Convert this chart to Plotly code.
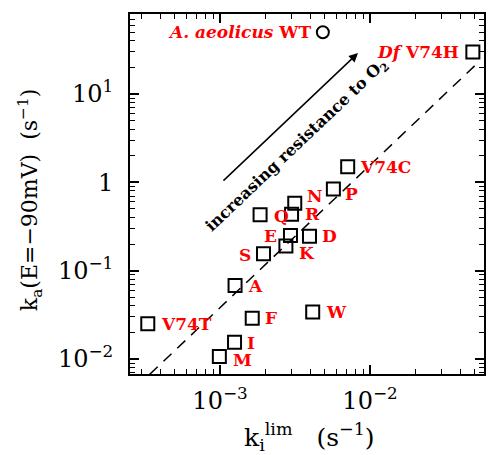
import plotly.graph_objects as go
import numpy as np

# ---- data ----
mutants = ["V74C", "P", "N", "Q", "R", "E", "D", "K", "S", "A", "F", "W", "V74T", "I", "M", "Df V74H"]
ki_lim = [7.1e-3, 5.7e-3, 3.15e-3, 1.85e-3, 3.0e-3, 2.95e-3, 3.95e-3, 2.75e-3, 1.95e-3, 1.26e-3, 1.64e-3, 4.15e-3, 3.3e-4, 1.25e-3, 9.9e-4, 4.85e-2]
ka = [1.5, 0.84, 0.58, 0.43, 0.435, 0.25, 0.245, 0.19, 0.155, 0.068, 0.029, 0.034, 0.025, 0.0155, 0.0107, 30.0]
wt_name = "A. aeolicus WT"
wt_ki = [4.85e-3]
wt_ka = [50.0]
fit_x = [3.4e-4, 5.3e-2]
fit_y = [6.7e-3, 23.0]

x_tickvals = [1e-3, 1e-2]
x_ticktext = ["10<sup>\u22123</sup>", "10<sup>\u22122</sup>"]
y_tickvals = [1e-2, 1e-1, 1, 10]
y_ticktext = ["10<sup>\u22122</sup>", "10<sup>\u22121</sup>", "1", "10<sup>1</sup>"]

# label offsets (pixels) : (dx, dy, anchor)
label_style = {
    "V74C": (10, 0, "left"), "P": (10, 5, "left"), "N": (10, -7, "left"),
    "Q": (12, 1, "left"), "R": (11, 0, "left"), "E": (-11, 0, "right"),
    "D": (11, 0, "left"), "K": (11, 7, "left"), "S": (-11, 1, "right"),
    "A": (11, 1, "left"), "F": (11, 0, "left"), "W": (11, 0, "left"),
    "V74T": (11, 0, "left"), "I": (10, 1, "left"), "M": (12, 4, "left"),
    "Df V74H": (-12, 0, "right"),
}

SERIF = "DejaVu Serif"
RED = "#ff0000"

fig = go.Figure()
fig.add_trace(go.Scatter(x=fit_x, y=fit_y, mode="lines",
                         line=dict(color="black", width=1.5, dash="11px,8px"),
                         showlegend=False, hoverinfo="skip"))
fig.add_trace(go.Scatter(x=ki_lim, y=ka, mode="markers",
                         marker=dict(symbol="square-open", size=13, color="black", line=dict(width=2)),
                         showlegend=False))
fig.add_trace(go.Scatter(x=wt_ki, y=wt_ka, mode="markers",
                         marker=dict(symbol="circle-open", size=12, color="black", line=dict(width=2)),
                         showlegend=False))

anns = []
for name, xv, yv in zip(mutants, ki_lim, ka):
    dx, dy, anc = label_style[name]
    txt = "<i>Df</i> V74H" if name == "Df V74H" else name
    anns.append(dict(x=np.log10(xv), y=np.log10(yv), text=txt, showarrow=False,
                     xanchor=anc, yanchor="middle", xshift=dx, yshift=-dy,
                     font=dict(family=SERIF, size=17, color=RED, weight="bold")))
anns.append(dict(x=np.log10(wt_ki[0]), y=np.log10(wt_ka[0]), text="<i>A. aeolicus</i> WT",
                 showarrow=False, xanchor="right", yanchor="middle", xshift=-10,
                 font=dict(family=SERIF, size=17, color=RED, weight="bold")))

# arrow & its caption (log10 axis coordinates)
arrow_tail = (-2.987, 0.003)
arrow_head = (-2.08, 1.464)
caption_pos = (-2.49, 0.42)
anns.append(dict(x=arrow_head[0], y=arrow_head[1], ax=arrow_tail[0], ay=arrow_tail[1],
                 xref="x", yref="y", axref="x", ayref="y", text="", showarrow=True,
                 arrowhead=2, arrowsize=1.2, arrowwidth=1.5, arrowcolor="black"))
anns.append(dict(x=caption_pos[0], y=caption_pos[1], text="increasing resistance to O<sub>2</sub>",
                 showarrow=False, textangle=-43.5,
                 font=dict(family=SERIF, size=16, color="black", weight="bold")))

# axis titles
anns.append(dict(xref="paper", yref="paper", x=-0.282, y=0.5, yshift=-6,
                 text="k<sub>a</sub>(E=\u221290mV)  (s<sup>\u22121</sup>)", textangle=-90,
                 showarrow=False, xanchor="center", yanchor="middle",
                 font=dict(family=SERIF, size=22, color="black")))
anns.append(dict(xref="paper", yref="paper", x=0.5, y=-0.175, xshift=2,
                 text="k<sub>i</sub><sup>lim</sup>   (s<sup>\u22121</sup>)",
                 showarrow=False, xanchor="center", yanchor="middle",
                 font=dict(family=SERIF, size=25, color="black")))

minor_x = [m * 10.0 ** e for e in range(-4, -1) for m in range(2, 10)]
minor_y = [m * 10.0 ** e for e in range(-3, 2) for m in range(2, 10)]

axis_common = dict(type="log", showline=True, linecolor="black", linewidth=2, mirror="allticks",
                   ticks="inside", ticklen=9, tickwidth=1.5, tickcolor="black",
                   showgrid=False, zeroline=False, automargin=False,
                   tickfont=dict(family=SERIF, size=24, color="black"))

fig.update_xaxes(**axis_common, range=[-3.6, -1.24], tickvals=x_tickvals, ticktext=x_ticktext,
                 ticklabelstandoff=4,
                 minor=dict(tickvals=minor_x, ticks="inside", ticklen=5, tickwidth=1.2, tickcolor="black"))
fig.update_yaxes(**axis_common, range=[-2.17, 1.906], tickvals=y_tickvals, ticktext=y_ticktext,
                 ticklabelstandoff=10,
                 minor=dict(tickvals=minor_y, ticks="inside", ticklen=5, tickwidth=1.2, tickcolor="black"))

fig.update_layout(width=492, height=455, margin=dict(l=130, r=8, t=14, b=81),
                  plot_bgcolor="white", paper_bgcolor="white", annotations=anns)

fig.write_html("out.html", config={"displayModeBar": False},
               post_script="document.body.style.margin='0px';")
